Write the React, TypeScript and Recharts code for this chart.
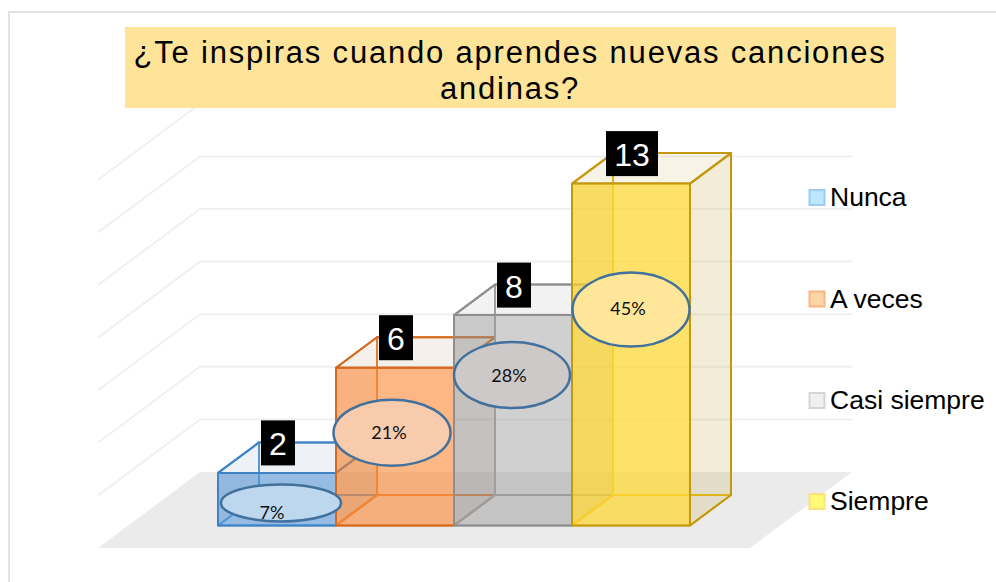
import React from "react";
import { BarChart, Bar, XAxis, YAxis, CartesianGrid, LabelList, Customized } from "recharts";

const titleLines = ["¿Te inspiras cuando aprendes nuevas canciones", "andinas?"];
const categories = ["Nunca", "A veces", "Casi siempre", "Siempre"];
const counts = [2, 6, 8, 13];
const percents = ["7%", "21%", "28%", "45%"];
const valueTicks = [0, 2, 4, 6, 8, 10, 12, 14];
const data = categories.map((name, i) => ({ name, value: counts[i], percent: percents[i] }));

const W = 996, H = 582;
const DX = 41, DY = 30.5;
const FONT = "'Liberation Sans', Arial, sans-serif";

const faceStyles = [
  { front: "rgba(80,150,220,0.55)", shade: "rgba(0,0,0,0.03)", tint: "rgba(90,130,170,0.10)", side: "rgba(90,130,170,0.10)", edge: "#3f83c4", inner: "#5a9ad6" },
  { front: "rgba(252,135,50,0.6)", shade: "rgba(0,0,0,0.05)", tint: "rgba(170,110,70,0.10)", side: "rgba(170,110,70,0.10)", edge: "#d4691f", inner: "#e88334" },
  { front: "rgba(150,150,150,0.45)", shade: "rgba(0,0,0,0.05)", tint: "rgba(130,130,130,0.10)", side: "rgba(130,130,130,0.10)", edge: "#8e8e8e", inner: "#a5a5a5" },
  { front: "rgba(253,215,55,0.75)", shade: "rgba(0,0,0,0.1)", tint: "rgba(190,160,60,0.12)", side: "rgba(190,160,60,0.2)", edge: "#c2980f", inner: "#e6bb12" },
];
const calloutFills = ["#bdd7ee", "#f8cbad", "#cdc9c9", "#ffe699"];
// callout offsets from the top-centre of each bar's front face
const calloutLayout = [
  { dx: 4, dy: 30, rx: 60, ry: 18.5, tx: -5, ty: 40 },
  { dx: -3, dy: 65, rx: 58.5, ry: 33, tx: -6, ty: 65 },
  { dx: -1, dy: 60, rx: 58, ry: 33, tx: -4, ty: 60 },
  { dx: 0, dy: 126, rx: 58.5, ry: 37, tx: -3, ty: 125 },
];
const legendSwatches = [
  { fill: "#bde7fd", stroke: "#9ccbf5", cy: 197.5 },
  { fill: "#fed5a5", stroke: "#f9b684", cy: 299 },
  { fill: "#f0f0f0", stroke: "#d5d5d5", cy: 400.5 },
  { fill: "#fffb78", stroke: "#fbe27b", cy: 501.5 },
];

function pts(list: number[][]) {
  return list.map((p) => p.join(",")).join(" ");
}

function GridLine(props: any) {
  const y = props.y1 - 53.5;
  const left = 98, back = 200, right = 852;
  const isFloor = Math.abs(props.y1 - 525.5) < 1;
  if (isFloor) {
    return (
      <polygon
        points={pts([[left, y + 76], [back, y], [right, y], [right - 102, y + 76]])}
        fill="#ebebeb"
      />
    );
  }
  return (
    <polyline
      points={pts([[left, y + 76], [back, y], [right, y]])}
      fill="none"
      stroke="#f0f0f0"
      strokeWidth={2}
    />
  );
}

function Box3D(props: any) {
  const { x, y, width: w, height: h, index } = props;
  const s = faceStyles[index];
  const b = y + h;
  const backFace = [[x + DX, y - DY], [x + w + DX, y - DY], [x + w + DX, b - DY], [x + DX, b - DY]];
  const left = [[x, y], [x + DX, y - DY], [x + DX, b - DY], [x, b]];
  const floor = [[x, b], [x + w, b], [x + w + DX, b - DY], [x + DX, b - DY]];
  const shade = [[x, y], [x + DX, y], [x + DX, b - DY], [x, b]];
  const top = [[x, y], [x + w, y], [x + w + DX, y - DY], [x + DX, y - DY]];
  const right = [[x + w, y], [x + w + DX, y - DY], [x + w + DX, b - DY], [x + w, b]];
  const front = [[x, y], [x + w, y], [x + w, b], [x, b]];
  return (
    <g strokeLinejoin="round">
      <polygon points={pts(shade)} fill={s.shade} />
      <polygon points={pts(backFace)} fill="none" stroke={s.inner} strokeWidth={2} />
      <polygon points={pts(left)} fill="none" stroke={s.inner} strokeWidth={2} />
      <polygon points={pts(floor)} fill="none" stroke={s.inner} strokeWidth={2} />
      <polygon points={pts(top)} fill={s.tint} stroke={s.edge} strokeWidth={2} />
      <polygon points={pts(right)} fill={s.side} stroke={s.edge} strokeWidth={2} />
      <polygon points={pts(front)} fill={s.front} stroke={s.edge} strokeWidth={2} />
    </g>
  );
}

function CountLabel(props: any) {
  const { x, y, width, value } = props;
  const text = String(value);
  const bw = text.length > 1 ? 52 : 34;
  const cx = x + width / 2 + 1;
  const cy = y - 30;
  return (
    <g>
      <rect x={cx - bw / 2} y={cy - 22.5} width={bw} height={45} fill="#000" />
      <text x={cx} y={cy + 12.5} textAnchor="middle" fontFamily={FONT} fontSize={32} fill="#fff">
        {text}
      </text>
    </g>
  );
}

function PercentLabel(props: any) {
  const { x, y, width, index, value } = props;
  const l = calloutLayout[index];
  const cx = x + width / 2;
  return (
    <g>
      <ellipse
        cx={cx + l.dx}
        cy={y + l.dy}
        rx={l.rx}
        ry={l.ry}
        fill={calloutFills[index]}
        stroke="#41719c"
        strokeWidth={2.5}
      />
      <text
        x={cx + l.tx}
        y={y + l.ty}
        dy="0.36em"
        textAnchor="middle"
        fontFamily="Lato, 'Open Sans', sans-serif"
        fontSize={18}
        fill="#111"
      >
        {value}
      </text>
    </g>
  );
}

function Frame() {
  return (
    <polyline
      points={pts([[9, H], [9, 12], [W, 12]])}
      fill="none"
      stroke="#d9d9d9"
      strokeWidth={1.5}
    />
  );
}

function TitleAndLegend() {
  return (
    <g>
      <rect x={125} y={27} width={771} height={81} fill="#fee498" />
      {titleLines.map((line, i) => (
        <text
          key={line}
          x={510}
          y={63 + i * 36}
          textAnchor="middle"
          fontFamily={FONT}
          fontSize={31}
          letterSpacing={1.8}
          fill="#000"
        >
          {line}
        </text>
      ))}
      {categories.map((name, i) => {
        const s = legendSwatches[i];
        return (
          <g key={name}>
            <rect x={809.5} y={s.cy - 7.5} width={15} height={15} fill={s.fill} stroke={s.stroke} strokeWidth={2} />
            <text x={830} y={s.cy + 8.5} fontFamily={FONT} fontSize={26.5} fill="#000">
              {name}
            </text>
          </g>
        );
      })}
    </g>
  );
}

export default function App() {
  return (
    <div style={{ position: "absolute", left: 0, top: 0, width: W, height: H, background: "#fff" }}>
      <BarChart
        width={W}
        height={H}
        data={data}
        margin={{ left: 218, right: 306, top: 157.3, bottom: 56.5 }}
        barCategoryGap={0}
      >
        <Customized component={Frame} />
        <CartesianGrid vertical={false} horizontal={GridLine as any} stroke="none" />
        <XAxis dataKey="name" hide />
        <YAxis hide domain={[0, 14]} ticks={valueTicks} />
        <Bar dataKey="value" shape={Box3D as any} isAnimationActive={false}>
          <LabelList dataKey="value" content={CountLabel as any} />
          <LabelList dataKey="percent" content={PercentLabel as any} />
        </Bar>
        <Customized component={TitleAndLegend} />
      </BarChart>
    </div>
  );
}
